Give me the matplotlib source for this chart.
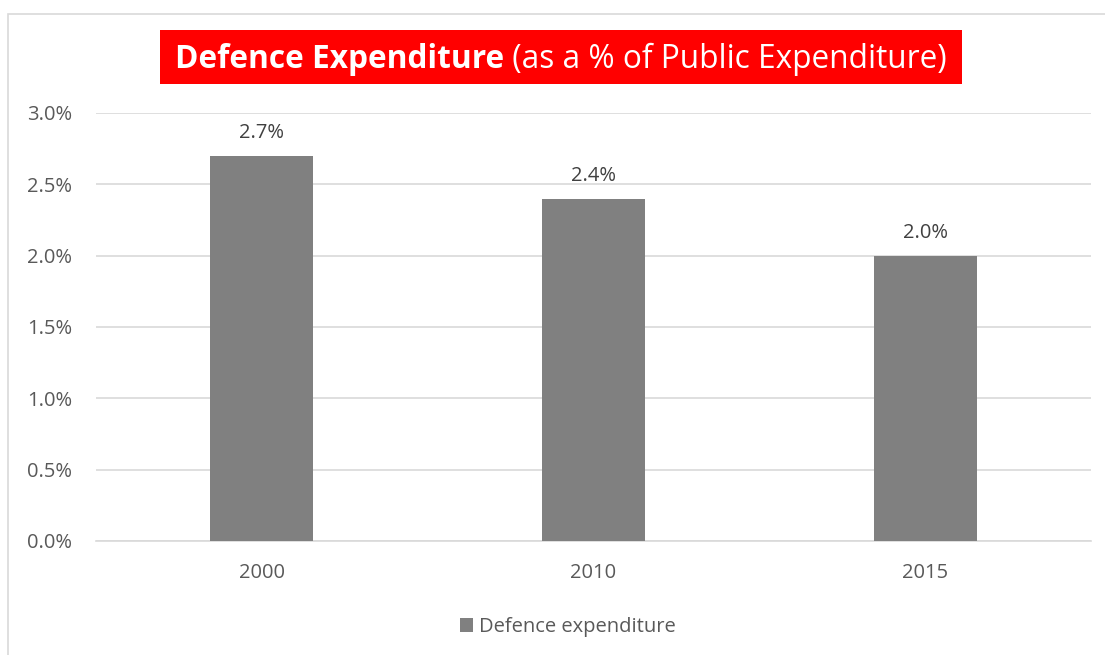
import matplotlib
matplotlib.use("Agg")
import matplotlib.pyplot as plt
from matplotlib.patches import Rectangle

categories = ["2000", "2010", "2015"]
values = [2.7, 2.4, 2.0]
series_name = "Defence expenditure"
yticks = [0.0, 0.5, 1.0, 1.5, 2.0, 2.5, 3.0]

plt.rcParams['font.family'] = ['Open Sans', 'DejaVu Sans']

W, H = 1105, 655
fig = plt.figure(figsize=(W / 100, H / 100), dpi=100)
fig.patch.set_facecolor("white")

# outer chart border
fig.add_artist(Rectangle((8 / W, -0.05), 1.2, (H - 14) / H + 0.05, transform=fig.transFigure,
                         fill=False, edgecolor="#d9d9d9", linewidth=1.2))

ax = fig.add_axes([96 / W, 1 - 541 / H, (1091 - 96) / W, (541 - 113) / H])
x = list(range(len(categories)))
bars = ax.bar(x, values, width=0.31, color="#808080", zorder=3, label=series_name)
ax.set_xlim(-0.5, len(categories) - 0.5)
ax.set_ylim(0, 3.0)
ax.set_yticks(yticks)
ax.set_yticklabels([f"{t:.1f}%" for t in yticks])
ax.set_xticks(x)
ax.set_xticklabels(categories)
ax.grid(axis="y", color="#d9d9d9", linewidth=1.2, zorder=0)
for s in ["top", "right", "left"]:
    ax.spines[s].set_visible(False)
ax.spines["bottom"].set_color("#d9d9d9")
ax.spines["bottom"].set_linewidth(1.2)
ax.tick_params(axis="both", length=0, labelsize=14.5, labelcolor="#595959")
ax.tick_params(axis="y", pad=17)
ax.tick_params(axis="x", pad=16)

for b, v in zip(bars, values):
    ax.annotate(f"{v:.1f}%", (b.get_x() + b.get_width() / 2, v), xytext=(0, 9),
                textcoords="offset points", ha="center", va="bottom",
                fontsize=14.5, color="#404040")

# title with red background
fig.add_artist(Rectangle((160 / W, 1 - 84 / H), (962 - 160) / W, (84 - 30) / H,
                         transform=fig.transFigure, facecolor="#ff0000", edgecolor="none"))
t1 = fig.text(0, 1 - 59 / H, "Defence Expenditure", fontsize=22.8, fontweight="bold",
              color="white", va="center", ha="left")
t2 = fig.text(0, 1 - 59 / H, " (as a % of Public Expenditure)", fontsize=22.8,
              color="white", va="center", ha="left")
fig.canvas.draw()
r = fig.canvas.get_renderer()
w1 = t1.get_window_extent(r).width
w2 = t2.get_window_extent(r).width
start = (561 - (w1 + w2) / 2)
t1.set_x(start / W)
t2.set_x((start + w1) / W)

leg = fig.legend(handles=[bars], labels=[series_name], loc="center",
                 bbox_to_anchor=(568 / W, 1 - 627 / H), frameon=False, fontsize=14.5,
                 handlelength=0.65, handleheight=0.65, handletextpad=0.3)
for txt in leg.get_texts():
    txt.set_color("#595959")

fig.savefig("out.png", dpi=100)
